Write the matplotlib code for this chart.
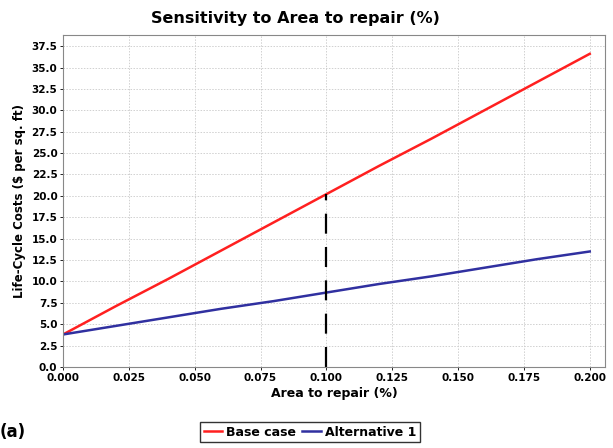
import matplotlib
matplotlib.use("Agg")
import matplotlib.pyplot as plt

# data
area = [0.0, 0.02, 0.04, 0.06, 0.08, 0.10, 0.12, 0.14, 0.16, 0.18, 0.20]
base_case = [3.8, 7.1, 10.3, 13.6, 16.9, 20.2, 23.5, 26.7, 30.0, 33.3, 36.6]
alternative_1 = [3.8, 4.8, 5.8, 6.8, 7.7, 8.7, 9.7, 10.6, 11.6, 12.6, 13.5]
marker_x = 0.10
marker_y = 20.2
x_ticks = [0.0, 0.025, 0.05, 0.075, 0.1, 0.125, 0.15, 0.175, 0.2]
y_ticks = [0.0, 2.5, 5.0, 7.5, 10.0, 12.5, 15.0, 17.5, 20.0, 22.5, 25.0, 27.5, 30.0, 32.5, 35.0, 37.5]

fig = plt.figure(figsize=(6.13, 4.48), dpi=100)
ax = fig.add_axes([63 / 613, 1 - 367 / 448, (605 - 63) / 613, (367 - 35) / 448])

ax.plot(area, base_case, color="#ff2020", lw=1.8, label="Base case")
ax.plot(area, alternative_1, color="#3030a0", lw=1.8, label="Alternative 1")
ax.plot([marker_x, marker_x], [0, marker_y], color="black", lw=1.6, ls=(0, (9, 6)))

ax.set_xlim(0, 0.2058)
ax.set_ylim(0, 38.8)
ax.set_xticks(x_ticks)
ax.set_xticklabels([f"{v:.3f}" for v in x_ticks])
ax.set_yticks(y_ticks)
ax.set_yticklabels([f"{v:.1f}" for v in y_ticks])
ax.tick_params(labelsize=7.5, length=2, width=0.6, pad=2)
for lbl in ax.get_xticklabels() + ax.get_yticklabels():
    lbl.set_fontweight("bold")
ax.grid(True, color="#d0d0d0", ls=(0, (1.5, 1.5)), lw=0.7)
for s in ax.spines.values():
    s.set_color("#888888")
    s.set_linewidth(0.8)

fig.text(295 / 613, 1 - 18 / 448, "Sensitivity to Area to repair (%)", fontsize=11.5,
         fontweight="bold", ha="center", va="center")
ax.set_xlabel("Area to repair (%)", fontsize=9, fontweight="bold", labelpad=3)
ax.set_ylabel("Life-Cycle Costs ($ per sq. ft)", fontsize=8.5, fontweight="bold", labelpad=4)

leg = fig.legend(loc="center", bbox_to_anchor=(310 / 613, 1 - 432 / 448), ncol=2,
                 frameon=True, fancybox=False, edgecolor="black", handlelength=1.5,
                 handletextpad=0.3, columnspacing=0.5, borderpad=0.3,
                 prop={"weight": "bold", "size": 9})
leg.get_frame().set_linewidth(1.0)

fig.text(0.0, 1 - 432 / 448, "(a)", fontsize=12, fontweight="bold", va="center", ha="left")

fig.savefig("out.png", dpi=100)
